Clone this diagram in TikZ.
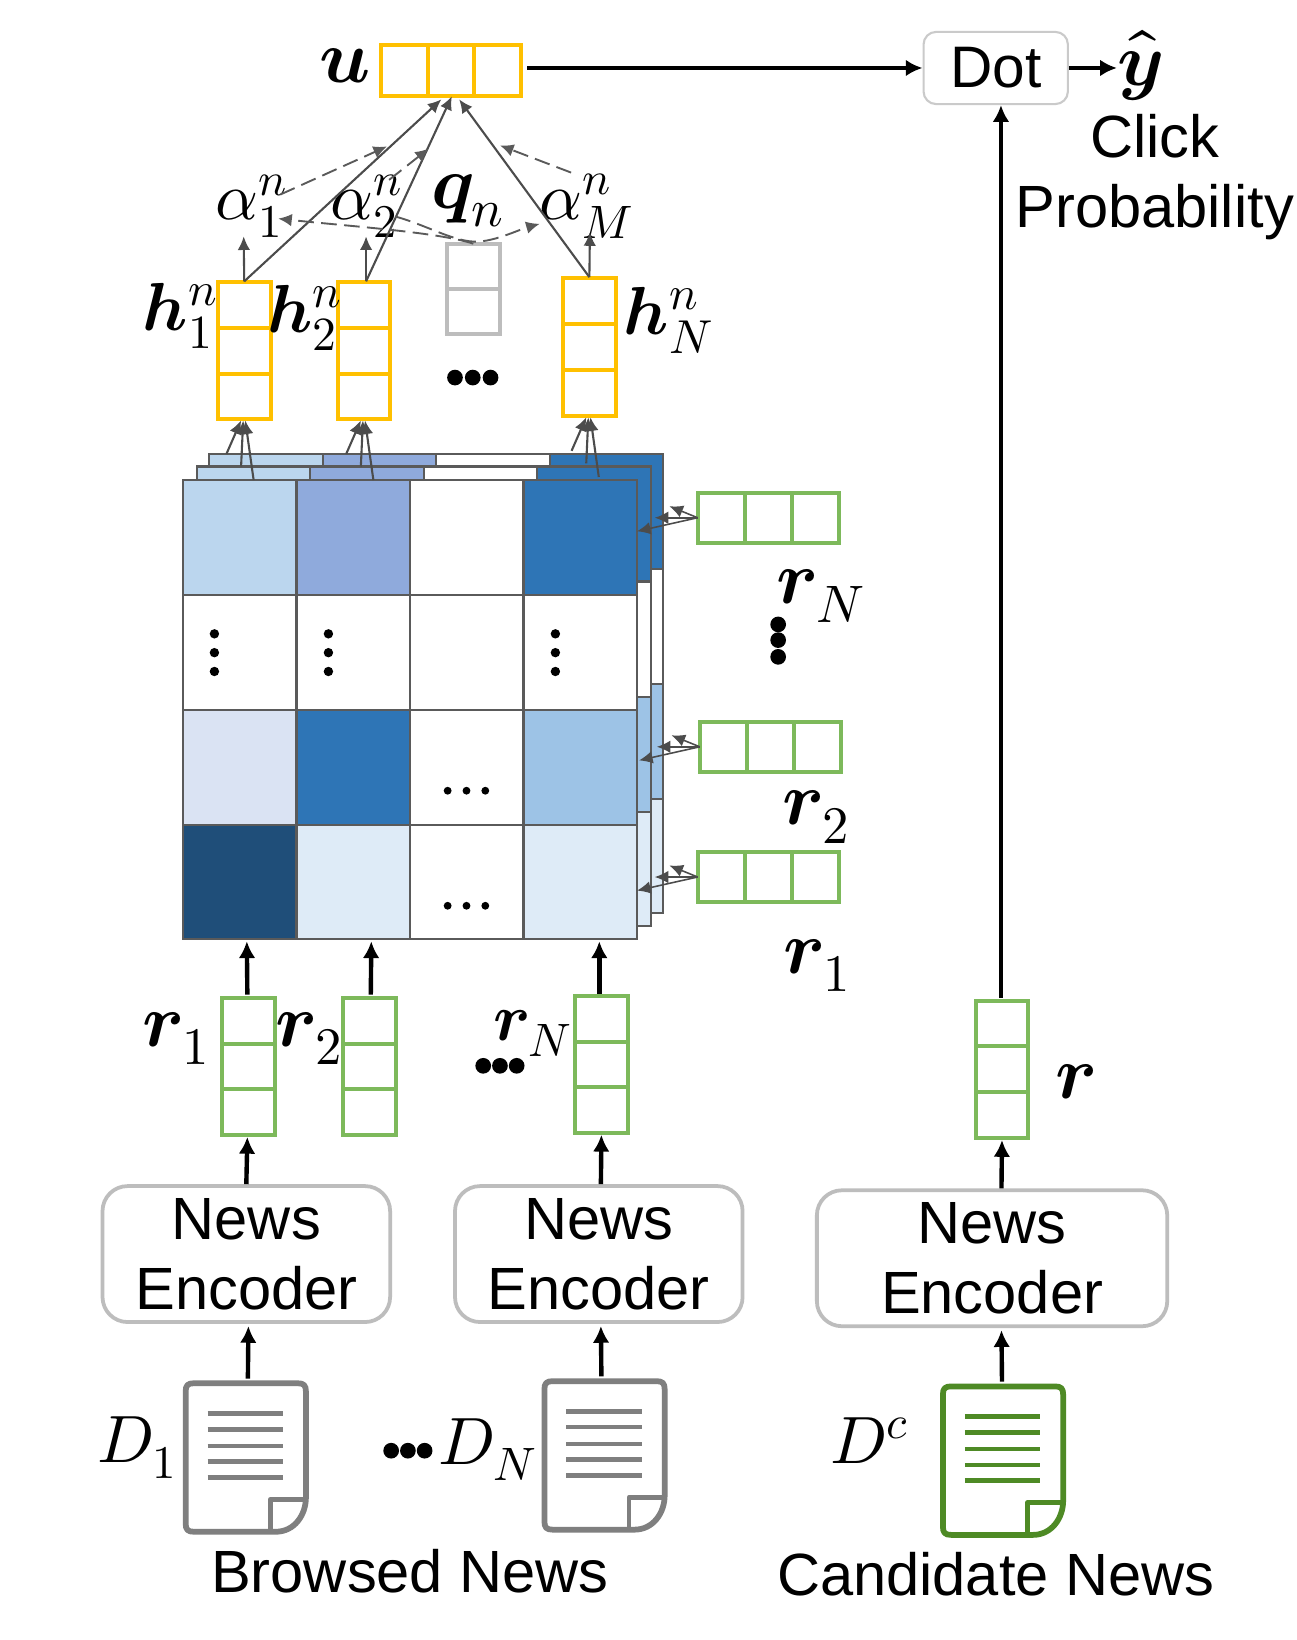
\documentclass[tikz,border=0pt]{standalone}
\usepackage{amsmath}
\usepackage{fontspec}
\usepackage{unicode-math}
\setmainfont{Liberation Sans}
\setmathfont{Latin Modern Math}
\usetikzlibrary{arrows.meta,calc}
\definecolor{orng}{HTML}{FFC000}
\definecolor{grn}{HTML}{7DB95B}
\definecolor{dgrn}{HTML}{4E8A25}
\definecolor{dgray}{HTML}{7F7F7F}
\definecolor{lgray}{HTML}{BDBDBD}
\definecolor{grid}{HTML}{5A5A5A}
\definecolor{cA}{HTML}{BBD6EE}
\definecolor{cB}{HTML}{8FAADC}
\definecolor{cC}{HTML}{2E75B6}
\definecolor{cD}{HTML}{DAE3F3}
\definecolor{cE}{HTML}{9DC3E6}
\definecolor{cF}{HTML}{1F4E79}
\definecolor{cG}{HTML}{DEEBF7}
\tikzset{
  x=1pt,y=-1pt,
  cell/.style={draw=#1,line width=3.8pt,fill=white},
  divline/.style={draw=#1,line width=3.8pt},
  encbox/.style={draw=lgray,line width=3.6pt,rounded corners=24pt,fill=white,inner sep=0pt,align=center,font=\fontsize{57}{67}\selectfont},
  dotbox/.style={draw=lgray!80,line width=2pt,rounded corners=12pt,inner sep=0pt,font=\fontsize{56}{60}\selectfont},
  thickarr/.style={-{Latex[length=16pt,width=16pt]},line width=4.2pt,black},
  thinarr/.style={-{Latex[length=13pt,width=12pt]},line width=2pt,grid!85!black},
  dasharr/.style={-{Latex[length=13pt,width=12pt]},line width=1.8pt,grid,dash pattern=on 15pt off 7pt},
  mathlab/.style={inner sep=0pt,font=\fontsize{64}{70}\selectfont},
  boldlab/.style={inner sep=0pt,font=\fontsize{72}{74}\selectfont},
  sanslab/.style={inner sep=0pt,font=\fontsize{57}{60}\selectfont},
  gridcell/.style={draw=grid,line width=2pt},
  bigdot/.style={circle,fill=black,inner sep=0pt,minimum size=#1}
}
\newcommand{\vecV}[7]{%
  \pgfmathsetmacro{\vw}{#4-#2}\pgfmathsetmacro{\vh}{#5-#3}%
  \node[cell=#7,minimum width=\vw pt,minimum height=\vh pt,inner sep=0pt,outer sep=0pt] (#1) at ({(#2+#4)/2},{(#3+#5)/2}) {};
  \foreach \d in {#6} {\draw[divline=#7] (#2,\d) -- (#4,\d);}
}
\newcommand{\vecH}[7]{%
  \pgfmathsetmacro{\vw}{#4-#2}\pgfmathsetmacro{\vh}{#5-#3}%
  \node[cell=#7,minimum width=\vw pt,minimum height=\vh pt,inner sep=0pt,outer sep=0pt] (#1) at ({(#2+#4)/2},{(#3+#5)/2}) {};
  \foreach \d in {#6} {\draw[divline=#7] (\d,#3) -- (\d,#5);}
}
\newcommand{\heat}[2]{%
  \begin{scope}[shift={(#1,#2)}]
  \foreach \c [count=\i from 0] in {cA,cB,white,cC}{\filldraw[gridcell,fill=\c] ({175+108.5*\i},459) rectangle ({175+108.5*(\i+1)},569);}
  \foreach \c [count=\i from 0] in {white,white,white,white}{\filldraw[gridcell,fill=\c] ({175+108.5*\i},569) rectangle ({175+108.5*(\i+1)},679);}
  \foreach \c [count=\i from 0] in {cD,cC,white,cE}{\filldraw[gridcell,fill=\c] ({175+108.5*\i},679) rectangle ({175+108.5*(\i+1)},789);}
  \foreach \c [count=\i from 0] in {cF,cG,white,cG}{\filldraw[gridcell,fill=\c] ({175+108.5*\i},789) rectangle ({175+108.5*(\i+1)},898);}
  \end{scope}
}
\newcommand{\docu}[4]{%
  \node[minimum width=120pt,minimum height=147pt,inner sep=0pt,outer sep=0pt] (#1) at ({#2+60},{#3+73.5}) {};
  \begin{scope}[shift={(#2+2.5,#3+2.5)},draw=#4,line join=round]
    \draw[line width=5.5pt,fill=white] (0,8) .. controls (0,2) and (2,0) .. (8,0) -- (107,0) .. controls (113,0) and (115,2) .. (115,8) -- (115,109) .. controls (115,126) and (104,142) .. (86,142) -- (8,142) .. controls (2,142) and (0,140) .. (0,134) -- cycle;
    \draw[line width=4.5pt] (115,111) -- (81,111) -- (81,141);
    \foreach \ly in {29,44,60,75,90}{\draw[line width=4.4pt] (21,\ly) -- (93,\ly);}
  \end{scope}
}
\begin{document}
\begin{tikzpicture}
\useasboundingbox (0,0) rectangle (1240,1568);
\fill[white] (0,0) rectangle (1240,1568);

\heat{25}{-25}
\heat{13}{-13}
\heat{0}{0}
\foreach \px in {205,314,531}{\foreach \py in {606,624,642}{\node[bigdot=9pt] (vd\px\py) at (\px,\py) {};}}
\foreach \py in {756,866}{\foreach \px in {428,446,464}{\node[bigdot=7.5pt] (hd\px\py) at (\px,\py) {};}}

\vecH{u}{364}{43}{498}{92}{409,453}{orng}
\node[boldlab] (ulab) at (330,63) {$\symbfit{u}$};
\node[dotbox,minimum width=138pt,minimum height=69pt] (dot) at (952,65) {Dot};
\node[boldlab] (yhat) at (1090,63) {$\hat{\symbfit{y}}$};
\node[sanslab] (click) at (1104,130) {Click};
\node[sanslab] (prob) at (1104,203) {Probability};
\coordinate (ustart) at ($(u.east)+(6,0)$);
\draw[thickarr] (ustart |- dot.west) -- (dot.west);
\draw[thickarr] (dot.east) -- (yhat.west |- dot.east);

\vecV{h1}{208}{270}{259}{401}{314,358}{orng}
\vecV{h2}{323}{270}{373}{401}{314,358}{orng}
\vecV{q}{427}{233}{478}{319}{276}{lgray}
\vecV{hN}{538}{266}{589}{398}{310,354}{orng}
\foreach \px in {435,452,469}{\node[bigdot=15pt] (qd\px) at (\px,361) {};}

\node[mathlab] (a1) at (240,197) {$\alpha_1^n$};
\node[mathlab] (a2) at (350,197) {$\alpha_2^n$};
\node[boldlab] (qn) at (447,192) {$\symbfit{q}_n$};
\node[mathlab] (aM) at (561,197) {$\alpha_M^n$};
\node[boldlab,font=\fontsize{65}{66}\selectfont] (h1l) at (172,302) {$\symbfit{h}_1^n$};
\node[boldlab,font=\fontsize{65}{66}\selectfont] (h2l) at (291,304) {$\symbfit{h}_2^n$};
\node[boldlab,font=\fontsize{65}{66}\selectfont] (hNl) at (639,306) {$\symbfit{h}_N^n$};

\coordinate (a1in) at (233,226);
\coordinate (a2in) at (350,226);
\coordinate (aMin) at (564,222);
\draw[thinarr] ($(h1.north)+(0,-1)$) -- (a1in);
\draw[thinarr] ($(h2.north)+(2,-1)$) -- (a2in);
\draw[thinarr] ($(hN.north)+(0,-1)$) -- (aMin);
\draw[thinarr] ($(h1.north)+(0,-1)$) -- ($(u.south)+(-9,3)$);
\draw[thinarr] ($(h2.north)+(2,-1)$) -- ($(u.south)+(1,0)$);
\draw[thinarr] ($(hN.north)+(0,-1)$) -- ($(u.south)+(8,3)$);
\coordinate (d1a) at (268,186);
\coordinate (d1b) at (370,140);
\coordinate (d2a) at (372,172);
\coordinate (d2b) at (410,142);
\coordinate (d3a) at (546,165);
\coordinate (d3b) at (478,139);
\draw[dasharr] (d1a) -- (d1b);
\draw[dasharr] (d2a) -- (d2b);
\draw[dasharr] (d3a) -- (d3b);
\draw[dasharr] (q.north) .. controls (420,222) and (330,216) .. (266,209);
\draw[dasharr] (378,207) .. controls (410,216) and (435,232) .. (457,231) .. controls (475,230) and (495,220) .. (516,214);

\foreach \n/\o in {h1/0,h2/0,hN/0}{
  \draw[thinarr] ($(\n.south)+(-17,33)$) -- ($(\n.south)+(-3,1)$);
  \draw[thinarr] ($(\n.south)+(-3,45)$) -- ($(\n.south)+(-1,1)$);
  \draw[thinarr] ($(\n.south)+(9,58)$) -- ($(\n.south)+(1,1)$);
}

\vecH{gN}{667}{471}{802}{519}{712,757}{grn}
\vecH{g2}{669}{690}{804}{738}{714,759}{grn}
\vecH{g1}{667}{815}{802}{862}{712,757}{grn}
\foreach \g in {gN,g2,g1}{
  \draw[thinarr,line width=1.5pt] (\g.west) -- ($(\g.west)+(-27,-11)$);
  \draw[thinarr,line width=1.5pt] (\g.west) -- ($(\g.west)+(-41,0)$);
  \draw[thinarr,line width=1.5pt] (\g.west) -- ($(\g.west)+(-58,13)$);
}
\node[boldlab] (rNl) at (785,570) {$\symbfit{r}_N$};
\node[boldlab] (r2l) at (780,781) {$\symbfit{r}_2$};
\node[boldlab] (r1l) at (781,923) {$\symbfit{r}_1$};
\foreach \py in {597,612,628}{\node[bigdot=15pt] (vv\py) at (744,\py) {};}

\vecV{r1}{212}{954}{263}{1085}{998,1041}{grn}
\vecV{r2}{328}{954}{379}{1085}{998,1041}{grn}
\vecV{rN}{550}{952}{600}{1083}{996,1039}{grn}
\vecV{rc}{933}{957}{983}{1088}{1000,1044}{grn}
\node[boldlab] (r1b) at (168,993) {$\symbfit{r}_1$};
\node[boldlab] (r2b) at (295,993) {$\symbfit{r}_2$};
\node[boldlab,font=\fontsize{64}{66}\selectfont] (rNb) at (509,988) {$\symbfit{r}_N$};
\foreach \px in {462,478,494}{\node[bigdot=15pt] (rd\px) at (\px,1019) {};}
\node[boldlab] (rl) at (1028,1034) {$\symbfit{r}$};

\coordinate (mt1) at (236,900);
\coordinate (mt2) at (355,900);
\coordinate (mt3) at (573,900);
\draw[thickarr] ($(r1.north)+(-1,-3)$) -- (mt1);
\draw[thickarr] ($(r2.north)+(1,-3)$) -- (mt2);
\draw[thickarr] ($(rN.north)+(-2,-2)$) -- (mt3);
\draw[thickarr] ($(rc.north)+(-1,-3)$) -- ($(dot.south)+(5,0)$);

\node[encbox,minimum width=275pt,minimum height=130pt] (e1) at (235.5,1199) {News\\Encoder};
\node[encbox,minimum width=275pt,minimum height=130pt] (e2) at (572.5,1199) {News\\Encoder};
\node[encbox,minimum width=335pt,minimum height=130pt] (e3) at (948.5,1203) {News\\Encoder};
\draw[thickarr] ($(e1.north)+(0,0)$) -- ($(r1.south)+(-1,2)$);
\draw[thickarr] ($(e2.north)+(2,0)$) -- ($(rN.south)+(0,2)$);
\draw[thickarr] ($(e3.north)+(9,0)$) -- ($(rc.south)+(0,2)$);

\docu{d1}{175}{1320}{dgray}
\docu{d2}{518}{1318}{dgray}
\docu{d3}{899}{1323}{dgrn}
\draw[thickarr] ($(d1.north)+(2,-2)$) -- ($(e1.south)+(2,2)$);
\draw[thickarr] ($(d2.north)+(-3,-2)$) -- ($(e2.south)+(2,2)$);
\draw[thickarr] ($(d3.north)+(-1,-2)$) -- ($(e3.south)+(9,2)$);
\node[mathlab] (dl1) at (131,1384) {$D_1$};
\foreach \px in {374,390,406}{\node[bigdot=15pt] (ds\px) at (\px,1387) {};}
\node[mathlab] (dlN) at (466,1386) {$D_N$};
\node[mathlab] (dlc) at (831,1377) {$D^c$};
\node[sanslab] (bn) at (392,1502) {Browsed News};
\node[sanslab] (cn) at (952,1505) {Candidate News};
\end{tikzpicture}
\end{document}
